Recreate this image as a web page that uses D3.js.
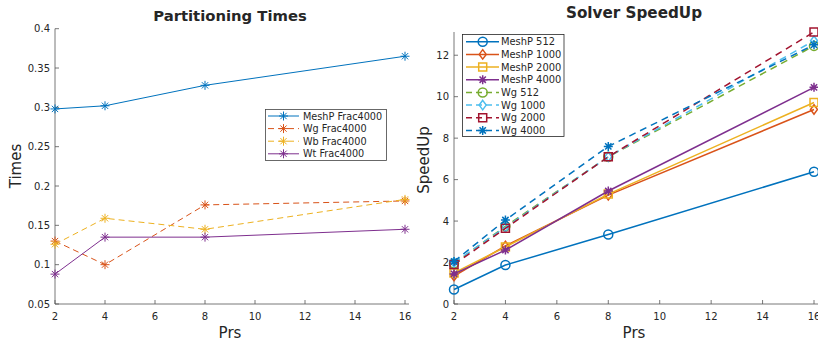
<!DOCTYPE html>
<html><head><meta charset="utf-8">
<script src="https://cdn.jsdelivr.net/npm/d3@7/dist/d3.min.js"></script>
<style>
body{margin:0;background:#fff;}
text{font-family:"DejaVu Sans",sans-serif;fill:#262626;}
</style></head>
<body><svg id="c" width="818" height="347"></svg>
<script>
// ---------- data ----------
const prs = [2, 4, 8, 16];
const xTicks = [2, 4, 6, 8, 10, 12, 14, 16];

// Partitioning Times
const partNames = ["MeshP Frac4000", "Wg Frac4000", "Wb Frac4000", "Wt Frac4000"];
const meshPFrac = [0.298, 0.302, 0.328, 0.365];
const wgFrac    = [0.130, 0.100, 0.176, 0.181];
const wbFrac    = [0.126, 0.159, 0.145, 0.183];
const wtFrac    = [0.088, 0.135, 0.135, 0.145];
const partTicks = [0.05, 0.1, 0.15, 0.2, 0.25, 0.3, 0.35, 0.4];

// Solver SpeedUp
const speedNames = ["MeshP 512", "MeshP 1000", "MeshP 2000", "MeshP 4000", "Wg 512", "Wg 1000", "Wg 2000", "Wg 4000"];
const meshP512  = [0.70, 1.88, 3.35, 6.38];
const meshP1000 = [1.35, 2.80, 5.25, 9.38];
const meshP2000 = [1.50, 2.75, 5.30, 9.72];
const meshP4000 = [1.45, 2.60, 5.45, 10.45];
const wg512     = [1.95, 3.75, 7.10, 12.45];
const wg1000    = [2.00, 3.70, 7.10, 12.70];
const wg2000    = [1.90, 3.65, 7.10, 13.12];
const wg4000    = [2.05, 4.05, 7.60, 12.50];
const speedTicks = [0, 2, 4, 6, 8, 10, 12];

// ---------- styles ----------
const C = ["#0072BD", "#D95319", "#EDB120", "#7E2F8E", "#77AC30", "#4DBEEE", "#A2142F", "#0072BD"];
const svg = d3.select("#c");

function markerPath(type, s) {
  if (type === "*") {
    const d = s * 0.7;
    return `M${-s},0L${s},0M0,${-s}L0,${s}M${-d},${-d}L${d},${d}M${-d},${d}L${d},${-d}`;
  }
  if (type === "o") return d3.symbol(d3.symbolCircle, Math.PI * s * s)();
  if (type === "d") return `M0,${-s * 1.35}L${s},0L0,${s * 1.35}L${-s},0Z`;
  if (type === "s") return `M${-s},${-s}L${s},${-s}L${s},${s}L${-s},${s}Z`;
}

function drawAxes(g, x, y, xT, yT, yFmt, yTop) {
  const xr = x.range(), yr = y.range();
  const axCol = "#555";
  g.append("line").attr("x1", xr[0]).attr("x2", xr[1] + 4).attr("y1", yr[0]).attr("y2", yr[0])
    .attr("stroke", axCol).attr("stroke-width", 0.8);
  g.append("line").attr("x1", xr[0]).attr("x2", xr[0]).attr("y1", yr[0]).attr("y2", yTop)
    .attr("stroke", axCol).attr("stroke-width", 0.8);
  xT.forEach(t => {
    g.append("line").attr("x1", x(t)).attr("x2", x(t)).attr("y1", yr[0]).attr("y2", yr[0] - 4)
      .attr("stroke", axCol).attr("stroke-width", 0.8);
    g.append("text").attr("x", x(t)).attr("y", yr[0] + 16).attr("text-anchor", "middle")
      .attr("font-size", 10).text(t);
  });
  yT.forEach(t => {
    g.append("line").attr("x1", xr[0]).attr("x2", xr[0] + 4).attr("y1", y(t)).attr("y2", y(t))
      .attr("stroke", axCol).attr("stroke-width", 0.8);
    g.append("text").attr("x", xr[0] - 5).attr("y", y(t) + 3.6).attr("text-anchor", "end")
      .attr("font-size", 10).text(yFmt(t));
  });
}

function drawSeries(g, x, y, vals, col, dash, mk, ms, lw, da) {
  const line = d3.line().x((d, i) => x(prs[i])).y(d => y(d));
  g.append("path").attr("d", line(vals)).attr("fill", "none").attr("stroke", col)
    .attr("stroke-width", lw).attr("stroke-dasharray", dash ? da : null);
  vals.forEach((v, i) => {
    g.append("path").attr("transform", `translate(${x(prs[i])},${y(v)})`)
      .attr("d", markerPath(mk, ms)).attr("fill", "none").attr("stroke", col).attr("stroke-width", lw);
  });
}

// ---------- left chart ----------
{
  const g = svg.append("g");
  const x = d3.scaleLinear().domain([2, 16]).range([55, 405]);
  const y = d3.scaleLinear().domain([0.05, 0.4]).range([304, 28.7]);
  drawAxes(g, x, y, xTicks, partTicks, t => String(+t.toFixed(2)), 28.7);
  const series = [meshPFrac, wgFrac, wbFrac, wtFrac];
  const dashes = [false, true, true, false];
  series.forEach((s, i) => drawSeries(g, x, y, s, C[i], dashes[i], "*", 4.5, 1, "6,4"));

  g.append("text").attr("x", 230).attr("y", 21).attr("text-anchor", "middle")
    .attr("font-size", 14.8).attr("font-weight", "bold").attr("fill", "#000").text("Partitioning Times");
  g.append("text").attr("x", 230).attr("y", 338).attr("text-anchor", "middle")
    .attr("font-size", 15).text("Prs");
  g.append("text").attr("transform", "translate(21,166) rotate(-90)").attr("text-anchor", "middle")
    .attr("font-size", 15).text("Times");

  const lg = g.append("g");
  lg.append("rect").attr("x", 265.5).attr("y", 109.5).attr("width", 121).attr("height", 51)
    .attr("fill", "#fff").attr("stroke", "#444").attr("stroke-width", 0.8);
  partNames.forEach((n, i) => {
    const yy = 116 + i * 12.6;
    lg.append("line").attr("x1", 268).attr("x2", 299).attr("y1", yy).attr("y2", yy)
      .attr("stroke", C[i]).attr("stroke-width", 1).attr("stroke-dasharray", dashes[i] ? "6,4" : null);
    lg.append("path").attr("transform", `translate(283.5,${yy})`).attr("d", markerPath("*", 4.5))
      .attr("fill", "none").attr("stroke", C[i]).attr("stroke-width", 1);
    lg.append("text").attr("x", 303).attr("y", yy + 3.6).attr("font-size", 9.7).text(n);
  });
}

// ---------- right chart ----------
{
  const g = svg.append("g");
  const x = d3.scaleLinear().domain([2, 16]).range([454, 814]);
  const y = d3.scaleLinear().domain([0, 13.12]).range([304, 32]);
  drawAxes(g, x, y, xTicks, speedTicks, t => String(t), 32);
  const series = [meshP512, meshP1000, meshP2000, meshP4000, wg512, wg1000, wg2000, wg4000];
  const marks = ["o", "d", "s", "*", "o", "d", "s", "*"];
  const sizes = [4.5, 3.5, 4, 4.5, 4.5, 3.5, 4, 4.5];
  series.forEach((s, i) => drawSeries(g, x, y, s, C[i], i >= 4, marks[i], sizes[i], 1.5, "7,5"));

  g.append("text").attr("x", 634).attr("y", 18).attr("text-anchor", "middle")
    .attr("font-size", 15.2).attr("font-weight", "bold").attr("fill", "#000").text("Solver SpeedUp");
  g.append("text").attr("x", 634).attr("y", 338).attr("text-anchor", "middle")
    .attr("font-size", 15).text("Prs");
  g.append("text").attr("transform", "translate(428.5,160) rotate(-90)").attr("text-anchor", "middle")
    .attr("font-size", 15).text("SpeedUp");

  const lg = g.append("g");
  lg.append("rect").attr("x", 462.5).attr("y", 34.5).attr("width", 101.5).attr("height", 102)
    .attr("fill", "#fff").attr("stroke", "#262626").attr("stroke-width", 0.8);
  speedNames.forEach((n, i) => {
    const yy = 41.7 + i * 12.68;
    lg.append("line").attr("x1", 466).attr("x2", 499).attr("y1", yy).attr("y2", yy)
      .attr("stroke", C[i]).attr("stroke-width", 1.5).attr("stroke-dasharray", i >= 4 ? "6,4" : null);
    lg.append("path").attr("transform", `translate(482.7,${yy})`).attr("d", markerPath(marks[i], sizes[i]))
      .attr("fill", "none").attr("stroke", C[i]).attr("stroke-width", 1.5);
    lg.append("text").attr("x", 501).attr("y", yy + 3.6).attr("font-size", 9.9).text(n);
  });
}
</script></body></html>
